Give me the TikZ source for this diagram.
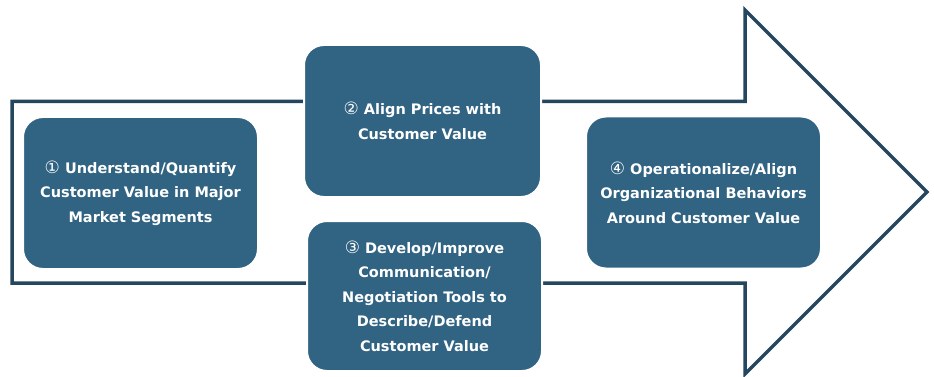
\documentclass[tikz,border=0pt]{standalone}
\usepackage{fontspec}
\setmainfont{DejaVu Sans}
\definecolor{stepFill}{RGB}{49,99,131}
\definecolor{arrowLine}{RGB}{37,71,94}
\newcommand{\stepNo}[1]{{\mdseries\fontsize{17}{24.5}\selectfont #1}}

\begin{document}
\begin{tikzpicture}[%%
  x=1pt,y=-1pt,%%
  arrowStyle/.style={draw=arrowLine,line width=3.5pt,line join=miter,fill=white},%%
  stepStyle/.style={rectangle,rounded corners=20pt,fill=stepFill,draw=white,
    line width=2pt,text=white,align=center,inner sep=4pt,
    font=\fontsize{14.5}{24.5}\selectfont\bfseries,
    minimum width=#1,minimum height=152pt}
]
%%
%% Page frame.
\useasboundingbox (0,0) rectangle (934,377);
%%
%% The big arrow.
\pgfmathsetmacro{\bandTop}{101.5}
\pgfmathsetmacro{\bandBottom}{283}
\pgfmathsetmacro{\headX}{745}
\coordinate (tail top) at (12,\bandTop);
\coordinate (neck top) at (\headX,\bandTop);
\coordinate (head top) at (\headX,10);
\coordinate (tip) at (927,192);
\coordinate (head bottom) at (\headX,374);
\coordinate (neck bottom) at (\headX,\bandBottom);
\coordinate (tail bottom) at (12,\bandBottom);
\draw[arrowStyle] (tail top) -- (neck top) -- (head top) -- (tip)
  -- (head bottom) -- (neck bottom) -- (tail bottom) -- cycle;
%%
%% The four steps.
\node[stepStyle=235pt] (understand) at (140.5,193)
  {\stepNo{①} Understand/Quantify\\Customer Value in Major\\Market Segments};
\node[stepStyle=237pt] (align) at (422.5,121)
  {\stepNo{②} Align Prices with\\Customer Value};
\node[stepStyle=235pt,minimum height=150pt] (develop) at (424.5,296)
  {\stepNo{③} Develop/Improve\\Communication/\\Negotiation Tools to\\Describe/Defend\\Customer Value};
\node[stepStyle=235pt] (operate) at (703.5,192.5)
  {\stepNo{④} Operationalize/Align\\Organizational Behaviors\\Around Customer Value};
\end{tikzpicture}
\end{document}
